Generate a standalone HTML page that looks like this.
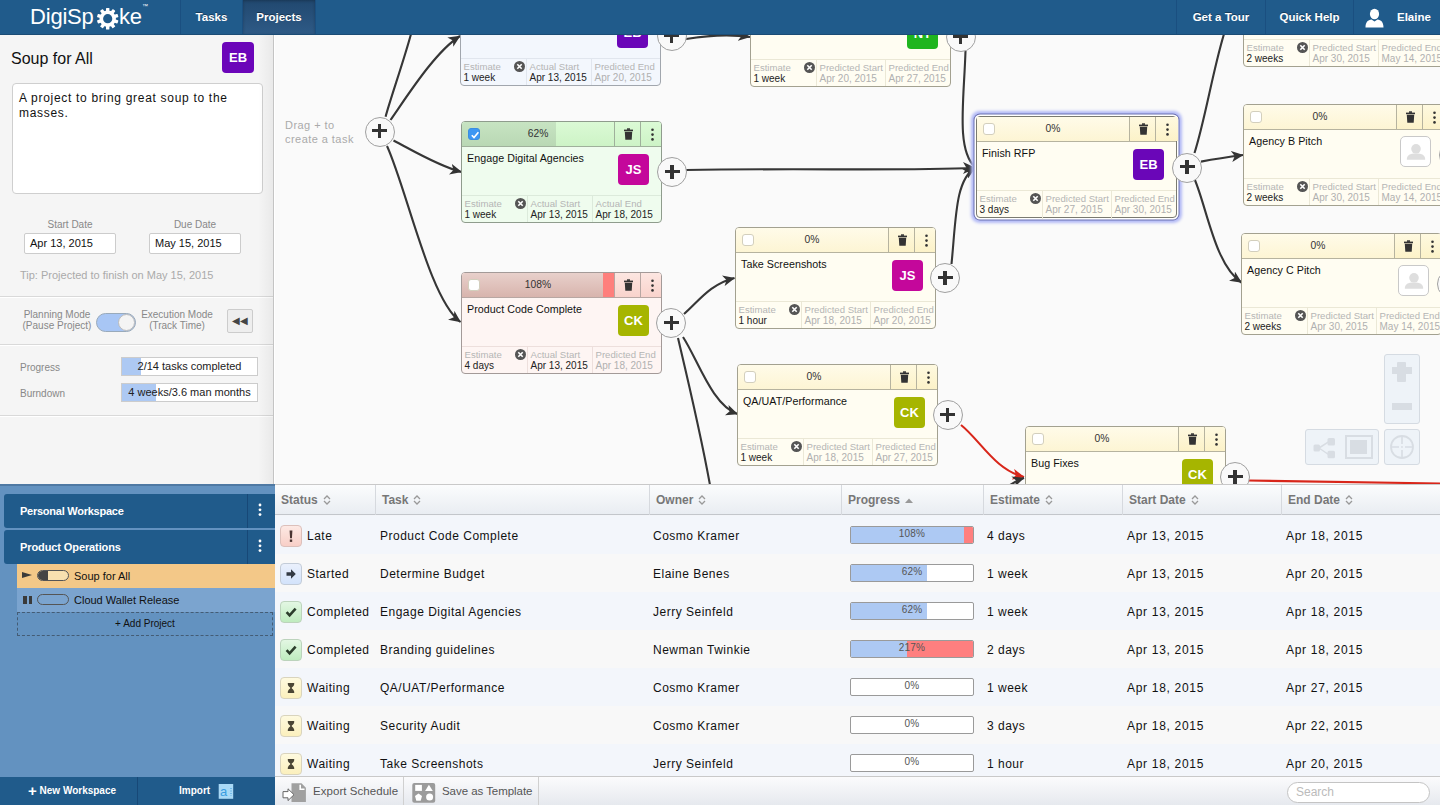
<!DOCTYPE html><html><head><meta charset="utf-8"><style>
*{margin:0;padding:0;box-sizing:border-box}
html,body{width:1440px;height:805px;overflow:hidden;font-family:"Liberation Sans",sans-serif;background:#f7f7f7;position:relative}
.abs{position:absolute}
#hdr{left:0;top:0;width:1440px;height:35px;background:#205b8b;border-bottom:1px solid #1b4c75;z-index:10}
.tab{position:absolute;top:0;height:34px;color:#fff;font-weight:bold;font-size:11.5px;line-height:35px;text-shadow:0 -1px 0 rgba(0,0,0,0.35);text-align:center;border-left:1px solid #1a4f80}
#left{left:0;top:35px;width:275px;height:449px;background:#f5f5f5;border-right:1px solid #fff}
#canvas{left:275px;top:35px;width:1165px;height:449px;background:#fafafa;overflow:hidden}
.card{position:absolute;width:201px;height:102px;border:1px solid #9c9c94;border-radius:4px;overflow:hidden;background:#fffdf0}
.card .hd{position:absolute;left:0;top:0;right:0;height:25px;border-bottom:1px solid #aaa79a;background:#fdf5cf}
.card .fill{position:absolute;left:0;top:0;height:24px}
.card .cb{position:absolute;left:5.5px;top:6px;width:12px;height:12px;border:1px solid #d3cfbd;border-radius:3px;background:#fff}
.card .pct{position:absolute;left:0;width:152px;top:0;height:24px;line-height:24px;text-align:center;font-size:10.3px;color:#333}
.card .tr{position:absolute;left:152px;top:0;width:26px;height:24px;border-left:1px solid #b4b19f}
.card .mn{position:absolute;left:178px;top:0;width:23px;height:24px;border-left:1px solid #b4b19f}
.card .title{position:absolute;left:5px;top:30px;font-size:10.7px;letter-spacing:0.05px;color:#111;white-space:nowrap}
.card .badge{position:absolute;left:156px;top:32px;width:31px;height:31px;border-radius:4px;color:#fff;font-weight:bold;font-size:13px;line-height:31px;text-align:center}
.card .ft{position:absolute;left:0;right:0;top:73px;height:29px;border-top:1px solid #e6e3d2}
.card .col{position:absolute;top:0;height:28px;font-size:10px;line-height:10.5px;padding-top:3px;padding-left:2.5px;white-space:nowrap}
.card .lab{color:#b5b5b5;font-size:9.6px}
.card .val{color:#b0b0b0}
.card .val.dk{color:#222}
.card .xc{position:absolute;left:52px;top:4px;width:11px;height:11px;border-radius:50%;background:#555;color:#fff;font-size:9px;line-height:11px;text-align:center;font-weight:bold}
.plus{position:absolute;width:30px;height:30px;border-radius:50%;border:1px solid #a0a0a0;background:#f9f9f9}
.plus:before{content:"";position:absolute;left:6.5px;top:11.6px;width:15px;height:3.3px;background:#333}
.plus:after{content:"";position:absolute;left:12.4px;top:6.5px;width:3.4px;height:14px;background:#333}
.th{position:absolute;top:0;height:30px;line-height:31px;font-size:12px;font-weight:bold;color:#777;padding-left:6px;border-left:1px solid #d6d9de}
.row{position:absolute;left:0;width:1165px;height:38px}
.cell{position:absolute;top:1px;height:38px;line-height:38px;font-size:12px;letter-spacing:0.5px;color:#111;white-space:nowrap}
.sic{position:absolute;left:5px;top:9px;width:22px;height:22px;border-radius:4px;border:1px solid #ddd}
.pbar{position:absolute;left:9px;top:10px;width:124px;height:18px;border:1px solid #9a9a9a;background:#fff;border-radius:2px;overflow:hidden}
.pbar .f{position:absolute;left:0;top:0;bottom:0;background:#adc9f3}
.pbar .r{position:absolute;top:0;bottom:0;background:#ff7f7f}
.pbar .t{position:absolute;left:0;right:0;top:0;text-align:center;font-size:10px;letter-spacing:0.2px;line-height:13px;color:#555}
</style></head><body>
<div id="hdr" class="abs">
<div class="abs" style="left:30px;top:4px;color:#fff;font-size:22px;letter-spacing:-0.2px;line-height:26px">DigiSp</div>
<div class="abs" style="left:119px;top:4px;color:#fff;font-size:22px;letter-spacing:-0.2px;line-height:26px">ke</div>
<div class="abs" style="left:142px;top:3px;color:#fff;font-size:6px">&#8482;</div>
<svg class="abs" style="left:96px;top:7px" width="23" height="23" viewBox="-11.5 -11.5 23 23"><g transform="translate(0.2,0.2)"><rect x="-1.7" y="-10.8" width="3.4" height="5" rx="0.6" transform="rotate(0)" fill="#fff"/><rect x="-1.7" y="-10.8" width="3.4" height="5" rx="0.6" transform="rotate(36)" fill="#fff"/><rect x="-1.7" y="-10.8" width="3.4" height="5" rx="0.6" transform="rotate(72)" fill="#fff"/><rect x="-1.7" y="-10.8" width="3.4" height="5" rx="0.6" transform="rotate(108)" fill="#fff"/><rect x="-1.7" y="-10.8" width="3.4" height="5" rx="0.6" transform="rotate(144)" fill="#fff"/><rect x="-1.7" y="-10.8" width="3.4" height="5" rx="0.6" transform="rotate(180)" fill="#fff"/><rect x="-1.7" y="-10.8" width="3.4" height="5" rx="0.6" transform="rotate(216)" fill="#fff"/><rect x="-1.7" y="-10.8" width="3.4" height="5" rx="0.6" transform="rotate(252)" fill="#fff"/><rect x="-1.7" y="-10.8" width="3.4" height="5" rx="0.6" transform="rotate(288)" fill="#fff"/><rect x="-1.7" y="-10.8" width="3.4" height="5" rx="0.6" transform="rotate(324)" fill="#fff"/><circle r="8.2" fill="#fff"/><circle r="4.6" fill="#205b8b"/></g></svg>
<div class="tab" style="left:180px;width:62px">Tasks</div>
<div class="tab" style="left:242px;width:74px;background:linear-gradient(#21486f,#2e5a86);box-shadow:inset 0 1px 3px rgba(0,0,0,0.25);border-right:1px solid #1a4f80">Projects</div>
<div class="tab" style="left:1176px;width:89px">Get a Tour</div>
<div class="tab" style="left:1265px;width:88px">Quick Help</div>
<div class="tab" style="left:1353px;width:87px"></div>
<svg class="abs" style="left:1364px;top:8px" width="21" height="20" viewBox="0 0 21 20"><ellipse cx="10.5" cy="6" rx="4.6" ry="5.2" fill="#fff"/><path d="M1.5,19.5 C1.5,14 4,12.2 7.5,11.6 L10.5,13.5 L13.5,11.6 C17,12.2 19.5,14 19.5,19.5 Z" fill="#fff"/></svg>
<div class="abs" style="left:1397px;top:0;color:#fff;font-weight:bold;font-size:11.5px;line-height:35px">Elaine</div>
</div>
<div id="left" class="abs">
<div class="abs" style="left:11px;top:15px;font-size:16px;color:#111">Soup for All</div>
<div class="abs" style="left:222px;top:7px;width:32px;height:31px;background:#6b05b9;border-radius:4px;color:#fff;font-weight:bold;font-size:13px;line-height:31px;text-align:center">EB</div>
<div class="abs" style="left:12px;top:48px;width:251px;height:111px;background:#fff;border:1px solid #cfcfcf;border-radius:4px;padding:6.5px 6px;font-size:12px;letter-spacing:0.7px;line-height:15px;color:#111">A project to bring great soup to the masses.</div>
<div class="abs" style="left:24px;top:184px;width:92px;text-align:center;font-size:10px;color:#888">Start Date</div>
<div class="abs" style="left:149px;top:184px;width:92px;text-align:center;font-size:10px;color:#888">Due Date</div>
<div class="abs" style="left:24px;top:198px;width:92px;height:21px;background:#fff;border:1px solid #ccc;border-radius:2px;font-size:11px;line-height:19px;padding-left:5px;color:#111">Apr 13, 2015</div>
<div class="abs" style="left:149px;top:198px;width:92px;height:21px;background:#fff;border:1px solid #ccc;border-radius:2px;font-size:11px;line-height:19px;padding-left:5px;color:#111">May 15, 2015</div>
<div class="abs" style="left:20px;top:234px;font-size:11px;color:#aaa">Tip: Projected to finish on May 15, 2015</div>
<div class="abs" style="left:0;top:261px;width:274px;height:1px;background:#d9d9d9;border-bottom:1px solid #fff;box-sizing:content-box"></div>
<div class="abs" style="left:18px;top:274px;width:78px;text-align:center;font-size:10px;line-height:11px;color:#888">Planning Mode<br>(Pause Project)</div>
<div class="abs" style="left:96px;top:278px;width:40px;height:19px;border-radius:10px;background:#a8c6f5;border:1px solid #9ab"></div>
<div class="abs" style="left:118px;top:279px;width:17px;height:17px;border-radius:50%;background:#f4f4f4;border:1px solid #bbb"></div>
<div class="abs" style="left:138px;top:274px;width:78px;text-align:center;font-size:10px;line-height:11px;color:#888">Execution Mode<br>(Track Time)</div>
<div class="abs" style="left:227px;top:274px;width:26px;height:24px;border:1px solid #ccc;border-radius:2px;background:#eee;font-size:10px;line-height:22px;text-align:center;color:#444">&#9664;&#9664;</div>
<div class="abs" style="left:0;top:309px;width:274px;height:1px;background:#d9d9d9;border-bottom:1px solid #fff;box-sizing:content-box"></div>
<div class="abs" style="left:20px;top:327px;font-size:10px;color:#888">Progress</div>
<div class="abs" style="left:121px;top:322px;width:137px;height:19px;background:#fff;border:1px solid #ccc;overflow:hidden"><div class="abs" style="left:0;top:0;width:19px;height:19px;background:#adc9f3"></div><div class="abs" style="left:0;right:0;top:0;text-align:center;font-size:11px;line-height:17px;color:#222">2/14 tasks completed</div></div>
<div class="abs" style="left:20px;top:353px;font-size:10px;color:#888">Burndown</div>
<div class="abs" style="left:121px;top:348px;width:137px;height:19px;background:#fff;border:1px solid #ccc;overflow:hidden"><div class="abs" style="left:0;top:0;width:34px;height:19px;background:#adc9f3"></div><div class="abs" style="left:0;right:0;top:0;text-align:center;font-size:11px;line-height:17px;color:#222">4 weeks/3.6 man months</div></div>
<div class="abs" style="left:0;top:380px;width:274px;height:1px;background:#d9d9d9;border-bottom:1px solid #fff;box-sizing:content-box"></div>
<div class="abs" style="left:258px;top:0;width:16px;height:449px;background:linear-gradient(to right,rgba(0,0,0,0),rgba(0,0,0,0.05))"></div>
<div class="abs" style="left:273px;top:0;width:1px;height:449px;background:#c4c4c4"></div>
</div>
<div class="abs" style="left:0;top:484px;width:275px;height:293px;background:#6392c0;border-top:2px solid #4f79a3"></div>
<div class="abs" style="left:4px;top:494px;width:271px;height:34px;background:#205b8b;border-radius:3px 0 0 3px"><div class="abs" style="left:16px;top:0;line-height:34px;color:#fff;font-weight:bold;font-size:11px;letter-spacing:-0.25px">Personal Workspace</div><div class="abs" style="left:243px;top:0;width:1px;height:34px;background:#174877"></div><svg class="abs" style="left:254px;top:9px" width="4" height="14" viewBox="0 0 4 14"><circle cx="2" cy="2" r="1.4" fill="#fff"/><circle cx="2" cy="6.8" r="1.4" fill="#fff"/><circle cx="2" cy="11.6" r="1.4" fill="#fff"/></svg></div>
<div class="abs" style="left:4px;top:530px;width:271px;height:34px;background:#205b8b;border-radius:3px 0 0 3px"><div class="abs" style="left:16px;top:0;line-height:34px;color:#fff;font-weight:bold;font-size:11px;letter-spacing:-0.1px">Product Operations</div><div class="abs" style="left:243px;top:0;width:1px;height:34px;background:#174877"></div><svg class="abs" style="left:254px;top:9px" width="4" height="14" viewBox="0 0 4 14"><circle cx="2" cy="2" r="1.4" fill="#fff"/><circle cx="2" cy="6.8" r="1.4" fill="#fff"/><circle cx="2" cy="11.6" r="1.4" fill="#fff"/></svg></div>
<div class="abs" style="left:17px;top:564px;width:258px;height:24px;background:#f3c888"><div class="abs" style="left:5px;top:7.5px;width:0;height:0;border-left:10px solid #3a3a3a;border-top:3.6px solid transparent;border-bottom:3.6px solid transparent"></div><div class="abs" style="left:20px;top:6px;width:32px;height:11px;border:1px solid #555;border-radius:6px;background:#f8e0b0;overflow:hidden"><div class="abs" style="left:0;top:0;width:10px;height:11px;background:#444"></div></div><div class="abs" style="left:57px;top:0;line-height:24px;font-size:11px;color:#111">Soup for All</div></div>
<div class="abs" style="left:17px;top:588px;width:258px;height:24px;background:#7ba4cf"><div class="abs" style="left:6px;top:7.5px;width:3.5px;height:8px;background:#3a3a3a"></div><div class="abs" style="left:11.5px;top:7.5px;width:3.5px;height:8px;background:#3a3a3a"></div><div class="abs" style="left:20px;top:6px;width:32px;height:11px;border:1px solid #555;border-radius:6px"></div><div class="abs" style="left:57px;top:0;line-height:24px;font-size:11px;color:#111">Cloud Wallet Release</div></div>
<div class="abs" style="left:17px;top:612px;width:256px;height:24px;border:1px dashed #445c75"><div class="abs" style="left:0;right:0;top:0;line-height:22px;text-align:center;font-size:10px;color:#111">+ Add Project</div></div>
<div class="abs" style="left:0;top:777px;width:275px;height:28px;background:#205b8b"><div class="abs" style="left:28px;top:0;line-height:28px;color:#fff;font-weight:bold;font-size:10px"><span style="font-size:15px;vertical-align:-2px">+</span> New Workspace</div><div class="abs" style="left:137px;top:0;width:1px;height:28px;background:#174877"></div><div class="abs" style="left:179px;top:0;line-height:28px;color:#fff;font-weight:bold;font-size:10px">Import</div><svg class="abs" style="left:218px;top:6px" width="16" height="16" viewBox="0 0 16 16"><rect x="0.7" y="1" width="14.5" height="14.8" fill="#a9d9f6"/><text x="2" y="12.5" font-family="Liberation Sans" font-size="13" fill="#3a9de0">a</text><path d="M13,5 V13" stroke="#3a9de0" stroke-width="1" stroke-dasharray="1,1.5"/></svg></div>
<div id="canvas" class="abs">
<div class="abs" style="left:10px;top:84px;font-size:11px;letter-spacing:0.45px;line-height:13.5px;color:#aaa">Drag + to<br>create a task</div>
<svg class="abs" style="left:0;top:0" width="1165" height="449" viewBox="275 35 1165 449"><defs><marker id="ah2" viewBox="0 0 12 11" refX="11.5" refY="5.5" markerWidth="12" markerHeight="11" orient="auto" markerUnits="userSpaceOnUse"><path d="M0,0 L12,5.5 L0,11 L3.2,5.5 Z" fill="#333"/></marker><marker id="ah3" viewBox="0 0 12 11" refX="11.5" refY="5.5" markerWidth="12" markerHeight="11" orient="auto" markerUnits="userSpaceOnUse"><path d="M0,0 L12,5.5 L0,11 L3.2,5.5 Z" fill="#d8261a"/></marker></defs><path d="M385.6,116.7 C 390,100 404,60 411,34" fill="none" stroke="#363636" stroke-width="2.1"/><path d="M390.5,120 C 408,95 435,52 460,36" fill="none" stroke="#363636" stroke-width="2.1" marker-end="url(#ah2)"/><path d="M393.5,140.5 C 412,150 438,166 461.5,172" fill="none" stroke="#363636" stroke-width="2.1" marker-end="url(#ah2)"/><path d="M387,146 C 407,190 430,300 460.5,322" fill="none" stroke="#363636" stroke-width="2.1" marker-end="url(#ah2)"/><path d="M686,39 C 710,35 730,34 750,37" fill="none" stroke="#363636" stroke-width="2.1" marker-end="url(#ah2)"/><path d="M686,170 C 800,168 900,171 975,168" fill="none" stroke="#363636" stroke-width="2.1"/><path d="M965.5,51 C 964,100 956,150 975,167" fill="none" stroke="#363636" stroke-width="2.1"/><path d="M951.5,264 C 956,220 955,180 975,168" fill="none" stroke="#363636" stroke-width="2.1" marker-end="url(#ah2)"/><path d="M684,314 C 698,302 710,284 734.5,278" fill="none" stroke="#363636" stroke-width="2.1" marker-end="url(#ah2)"/><path d="M683,337 C 698,360 712,405 737.5,414" fill="none" stroke="#363636" stroke-width="2.1" marker-end="url(#ah2)"/><path d="M678,338 C 686,372 700,430 710,485" fill="none" stroke="#363636" stroke-width="2.1"/><path d="M961,425 C 980,440 995,470 1024,477" fill="none" stroke="#d8261a" stroke-width="2.1" marker-end="url(#ah3)"/><path d="M1248.6,480.5 C 1320,481.5 1380,482.5 1440,483.5" fill="none" stroke="#d8261a" stroke-width="2.1"/><path d="M1201,161.6 C 1215,159 1228,157 1243,155" fill="none" stroke="#363636" stroke-width="2.1" marker-end="url(#ah2)"/><path d="M1194.5,153 C 1205,120 1213,70 1224,34" fill="none" stroke="#363636" stroke-width="2.1"/><path d="M1194.5,179 C 1207,208 1215,265 1241.5,282.5" fill="none" stroke="#363636" stroke-width="2.1" marker-end="url(#ah2)"/><path d="M1000,492 C 1008,486 1015,481 1024,478" fill="none" stroke="#363636" stroke-width="2.1" marker-end="url(#ah2)"/><path d="M963,162 L976,168 L963,174 L966.5,168 Z" fill="#333"/></svg>
<div class="card" style="left:185px;top:-51px;background:#f3f7fd;border-color:#a1a6ad;">
<div class="hd" style="background:linear-gradient(#e8f0fb,#d9e5f5);border-bottom-color:#b3b9c0">
<div class="cb"></div>
<div class="pct">62%</div>
<div class="tr" style="background:linear-gradient(#e8f0fb,#d9e5f5);border-left-color:#b3b9c0"><svg class="abs" style="left:8.5px;top:5.5px" width="9" height="12" viewBox="0 0 9 12"><rect x="0" y="1.6" width="9" height="1.6" fill="#333"/><rect x="3" y="0.3" width="3" height="1.6" fill="#333"/><path d="M0.8,3.8 H8.2 L7.7,11.8 H1.3 Z" fill="#333"/></svg></div><div class="mn" style="background:linear-gradient(#e8f0fb,#d9e5f5);border-left-color:#b3b9c0"><svg class="abs" style="left:10px;top:5.5px" width="3" height="13" viewBox="0 0 3 13"><circle cx="1.5" cy="1.8" r="1.3" fill="#333"/><circle cx="1.5" cy="6.6" r="1.3" fill="#333"/><circle cx="1.5" cy="11.4" r="1.3" fill="#333"/></svg></div>
</div>
<div class="title">Determine Budget</div>
<div class="badge" style="background:#6a06b8">EB</div>
<div class="ft" style="border-top-color:#e1e6ee">
<div class="col" style="left:0px;width:65px;"><div class="lab">Estimate</div><div class="val dk">1 week</div><svg class="xc2 abs" style="left:52.5px;top:1.8px" width="11" height="11" viewBox="0 0 11 11"><circle cx="5.5" cy="5.5" r="5.5" fill="#555"/><path d="M3.3,3.3 L7.7,7.7 M7.7,3.3 L3.3,7.7" stroke="#fff" stroke-width="1.6"/></svg></div>
<div class="col" style="left:65px;width:65px;border-left:1px solid #e1e6ee;"><div class="lab">Actual Start</div><div class="val dk">Apr 13, 2015</div></div>
<div class="col" style="left:130px;width:71px;border-left:1px solid #e1e6ee;"><div class="lab">Predicted End</div><div class="val">Apr 20, 2015</div></div>
</div></div>
<div class="card" style="left:475px;top:-50px;background:#fffdf2;border-color:#a3a190;">
<div class="hd" style="background:linear-gradient(#fffbe9,#fdf5d4);border-bottom-color:#b6b39f">
<div class="cb"></div>
<div class="pct">0%</div>
<div class="tr" style="background:linear-gradient(#fef9e0,#fcf2c8);border-left-color:#b6b39f"><svg class="abs" style="left:8.5px;top:5.5px" width="9" height="12" viewBox="0 0 9 12"><rect x="0" y="1.6" width="9" height="1.6" fill="#333"/><rect x="3" y="0.3" width="3" height="1.6" fill="#333"/><path d="M0.8,3.8 H8.2 L7.7,11.8 H1.3 Z" fill="#333"/></svg></div><div class="mn" style="background:linear-gradient(#fef9e0,#fcf2c8);border-left-color:#b6b39f"><svg class="abs" style="left:10px;top:5.5px" width="3" height="13" viewBox="0 0 3 13"><circle cx="1.5" cy="1.8" r="1.3" fill="#333"/><circle cx="1.5" cy="6.6" r="1.3" fill="#333"/><circle cx="1.5" cy="11.4" r="1.3" fill="#333"/></svg></div>
</div>
<div class="title">Branding</div>
<div class="badge" style="background:#1fb51f">NT</div>
<div class="ft" style="border-top-color:#ebe8d6">
<div class="col" style="left:0px;width:65px;"><div class="lab">Estimate</div><div class="val dk">1 week</div><svg class="xc2 abs" style="left:52.5px;top:1.8px" width="11" height="11" viewBox="0 0 11 11"><circle cx="5.5" cy="5.5" r="5.5" fill="#555"/><path d="M3.3,3.3 L7.7,7.7 M7.7,3.3 L3.3,7.7" stroke="#fff" stroke-width="1.6"/></svg></div>
<div class="col" style="left:65px;width:69px;border-left:1px solid #ebe8d6;"><div class="lab">Predicted Start</div><div class="val">Apr 20, 2015</div></div>
<div class="col" style="left:134px;width:67px;border-left:1px solid #ebe8d6;"><div class="lab">Predicted End</div><div class="val">Apr 27, 2015</div></div>
</div></div>
<div class="card" style="left:968px;top:-70px;background:#fffdf2;border-color:#a3a190;">
<div class="hd" style="background:linear-gradient(#fffbe9,#fdf5d4);border-bottom-color:#b6b39f">
<div class="cb"></div>
<div class="pct">0%</div>
<div class="tr" style="background:linear-gradient(#fef9e0,#fcf2c8);border-left-color:#b6b39f"><svg class="abs" style="left:8.5px;top:5.5px" width="9" height="12" viewBox="0 0 9 12"><rect x="0" y="1.6" width="9" height="1.6" fill="#333"/><rect x="3" y="0.3" width="3" height="1.6" fill="#333"/><path d="M0.8,3.8 H8.2 L7.7,11.8 H1.3 Z" fill="#333"/></svg></div><div class="mn" style="background:linear-gradient(#fef9e0,#fcf2c8);border-left-color:#b6b39f"><svg class="abs" style="left:10px;top:5.5px" width="3" height="13" viewBox="0 0 3 13"><circle cx="1.5" cy="1.8" r="1.3" fill="#333"/><circle cx="1.5" cy="6.6" r="1.3" fill="#333"/><circle cx="1.5" cy="11.4" r="1.3" fill="#333"/></svg></div>
</div>
<div class="title">Agency A Pitch</div>
<div class="abs" style="left:156px;top:31px;width:31px;height:31px;border-radius:5px;border:1px solid #c9c9c9;background:#fff"><svg class="abs" style="left:4.5px;top:4.5px" width="20" height="20" viewBox="0 0 20 20"><circle cx="10" cy="6.8" r="4.8" fill="#dedede"/><path d="M0.8,17.8 C0.8,13 4,11.6 10,11.6 C16,11.6 19.2,13 19.2,17.8 Z" fill="#dedede"/></svg></div>
<div class="ft" style="border-top-color:#ebe8d6">
<div class="col" style="left:0px;width:65px;"><div class="lab">Estimate</div><div class="val dk">2 weeks</div><svg class="xc2 abs" style="left:52.5px;top:1.8px" width="11" height="11" viewBox="0 0 11 11"><circle cx="5.5" cy="5.5" r="5.5" fill="#555"/><path d="M3.3,3.3 L7.7,7.7 M7.7,3.3 L3.3,7.7" stroke="#fff" stroke-width="1.6"/></svg></div>
<div class="col" style="left:65px;width:69px;border-left:1px solid #ebe8d6;"><div class="lab">Predicted Start</div><div class="val">Apr 30, 2015</div></div>
<div class="col" style="left:134px;width:67px;border-left:1px solid #ebe8d6;"><div class="lab">Predicted End</div><div class="val">May 14, 2015</div></div>
</div></div>
<div class="card" style="left:186px;top:86px;background:#effcee;border-color:#8f9c8d;">
<div class="hd" style="background:linear-gradient(#dbfad5,#cdf3c6);border-bottom-color:#9fb09b">
<div class="fill" style="width:94px;background:linear-gradient(#c7e4c2,#b9d8b4)"></div>
<div class="cb" style="background:#3d97f3;border-color:#3b8de0"><svg class="abs" style="left:1px;top:1px" width="10" height="10" viewBox="0 0 10 10"><path d="M1.8,5.2 L4,7.6 L8.4,2.2" stroke="#fff" stroke-width="1.6" fill="none"/></svg></div>
<div class="pct">62%</div>
<div class="tr" style="background:linear-gradient(#dbfad5,#cdf3c6);border-left-color:#9fb09b"><svg class="abs" style="left:8.5px;top:5.5px" width="9" height="12" viewBox="0 0 9 12"><rect x="0" y="1.6" width="9" height="1.6" fill="#333"/><rect x="3" y="0.3" width="3" height="1.6" fill="#333"/><path d="M0.8,3.8 H8.2 L7.7,11.8 H1.3 Z" fill="#333"/></svg></div><div class="mn" style="background:linear-gradient(#dbfad5,#cdf3c6);border-left-color:#9fb09b"><svg class="abs" style="left:10px;top:5.5px" width="3" height="13" viewBox="0 0 3 13"><circle cx="1.5" cy="1.8" r="1.3" fill="#333"/><circle cx="1.5" cy="6.6" r="1.3" fill="#333"/><circle cx="1.5" cy="11.4" r="1.3" fill="#333"/></svg></div>
</div>
<div class="title">Engage Digital Agencies</div>
<div class="badge" style="background:#c4079b">JS</div>
<div class="ft" style="border-top-color:#dceadb">
<div class="col" style="left:0px;width:65px;"><div class="lab">Estimate</div><div class="val dk">1 week</div><svg class="xc2 abs" style="left:52.5px;top:1.8px" width="11" height="11" viewBox="0 0 11 11"><circle cx="5.5" cy="5.5" r="5.5" fill="#555"/><path d="M3.3,3.3 L7.7,7.7 M7.7,3.3 L3.3,7.7" stroke="#fff" stroke-width="1.6"/></svg></div>
<div class="col" style="left:65px;width:65px;border-left:1px solid #dceadb;"><div class="lab">Actual Start</div><div class="val dk">Apr 13, 2015</div></div>
<div class="col" style="left:130px;width:71px;border-left:1px solid #dceadb;"><div class="lab">Actual End</div><div class="val dk">Apr 18, 2015</div></div>
</div></div>
<div class="card" style="left:186px;top:237px;background:#fef5f3;border-color:#a39a98;">
<div class="hd" style="background:linear-gradient(#fde4df,#f8d2cb);border-bottom-color:#b8a7a3">
<div class="fill" style="width:141px;background:linear-gradient(#e8d0cb,#d8b4ad)"></div>
<div class="fill" style="left:141px;width:11px;background:#fe7f7c"></div>
<div class="cb"></div>
<div class="pct">108%</div>
<div class="tr" style="background:linear-gradient(#fde6e1,#f9d3cc);border-left-color:#b8a7a3"><svg class="abs" style="left:8.5px;top:5.5px" width="9" height="12" viewBox="0 0 9 12"><rect x="0" y="1.6" width="9" height="1.6" fill="#333"/><rect x="3" y="0.3" width="3" height="1.6" fill="#333"/><path d="M0.8,3.8 H8.2 L7.7,11.8 H1.3 Z" fill="#333"/></svg></div><div class="mn" style="background:linear-gradient(#fde6e1,#f9d3cc);border-left-color:#b8a7a3"><svg class="abs" style="left:10px;top:5.5px" width="3" height="13" viewBox="0 0 3 13"><circle cx="1.5" cy="1.8" r="1.3" fill="#333"/><circle cx="1.5" cy="6.6" r="1.3" fill="#333"/><circle cx="1.5" cy="11.4" r="1.3" fill="#333"/></svg></div>
</div>
<div class="title">Product Code Complete</div>
<div class="badge" style="background:#a6b500">CK</div>
<div class="ft" style="border-top-color:#eddfdc">
<div class="col" style="left:0px;width:65px;"><div class="lab">Estimate</div><div class="val dk">4 days</div><svg class="xc2 abs" style="left:52.5px;top:1.8px" width="11" height="11" viewBox="0 0 11 11"><circle cx="5.5" cy="5.5" r="5.5" fill="#555"/><path d="M3.3,3.3 L7.7,7.7 M7.7,3.3 L3.3,7.7" stroke="#fff" stroke-width="1.6"/></svg></div>
<div class="col" style="left:65px;width:65px;border-left:1px solid #eddfdc;"><div class="lab">Actual Start</div><div class="val dk">Apr 13, 2015</div></div>
<div class="col" style="left:130px;width:71px;border-left:1px solid #eddfdc;"><div class="lab">Predicted End</div><div class="val">Apr 18, 2015</div></div>
</div></div>
<div class="card" style="left:460px;top:192px;background:#fffdf2;border-color:#a3a190;">
<div class="hd" style="background:linear-gradient(#fffbe9,#fdf5d4);border-bottom-color:#b6b39f">
<div class="cb"></div>
<div class="pct">0%</div>
<div class="tr" style="background:linear-gradient(#fef9e0,#fcf2c8);border-left-color:#b6b39f"><svg class="abs" style="left:8.5px;top:5.5px" width="9" height="12" viewBox="0 0 9 12"><rect x="0" y="1.6" width="9" height="1.6" fill="#333"/><rect x="3" y="0.3" width="3" height="1.6" fill="#333"/><path d="M0.8,3.8 H8.2 L7.7,11.8 H1.3 Z" fill="#333"/></svg></div><div class="mn" style="background:linear-gradient(#fef9e0,#fcf2c8);border-left-color:#b6b39f"><svg class="abs" style="left:10px;top:5.5px" width="3" height="13" viewBox="0 0 3 13"><circle cx="1.5" cy="1.8" r="1.3" fill="#333"/><circle cx="1.5" cy="6.6" r="1.3" fill="#333"/><circle cx="1.5" cy="11.4" r="1.3" fill="#333"/></svg></div>
</div>
<div class="title">Take Screenshots</div>
<div class="badge" style="background:#c4079b">JS</div>
<div class="ft" style="border-top-color:#ebe8d6">
<div class="col" style="left:0px;width:65px;"><div class="lab">Estimate</div><div class="val dk">1 hour</div><svg class="xc2 abs" style="left:52.5px;top:1.8px" width="11" height="11" viewBox="0 0 11 11"><circle cx="5.5" cy="5.5" r="5.5" fill="#555"/><path d="M3.3,3.3 L7.7,7.7 M7.7,3.3 L3.3,7.7" stroke="#fff" stroke-width="1.6"/></svg></div>
<div class="col" style="left:65px;width:69px;border-left:1px solid #ebe8d6;"><div class="lab">Predicted Start</div><div class="val">Apr 18, 2015</div></div>
<div class="col" style="left:134px;width:67px;border-left:1px solid #ebe8d6;"><div class="lab">Predicted End</div><div class="val">Apr 20, 2015</div></div>
</div></div>
<div class="card" style="left:462px;top:329px;background:#fffdf2;border-color:#a3a190;">
<div class="hd" style="background:linear-gradient(#fffbe9,#fdf5d4);border-bottom-color:#b6b39f">
<div class="cb"></div>
<div class="pct">0%</div>
<div class="tr" style="background:linear-gradient(#fef9e0,#fcf2c8);border-left-color:#b6b39f"><svg class="abs" style="left:8.5px;top:5.5px" width="9" height="12" viewBox="0 0 9 12"><rect x="0" y="1.6" width="9" height="1.6" fill="#333"/><rect x="3" y="0.3" width="3" height="1.6" fill="#333"/><path d="M0.8,3.8 H8.2 L7.7,11.8 H1.3 Z" fill="#333"/></svg></div><div class="mn" style="background:linear-gradient(#fef9e0,#fcf2c8);border-left-color:#b6b39f"><svg class="abs" style="left:10px;top:5.5px" width="3" height="13" viewBox="0 0 3 13"><circle cx="1.5" cy="1.8" r="1.3" fill="#333"/><circle cx="1.5" cy="6.6" r="1.3" fill="#333"/><circle cx="1.5" cy="11.4" r="1.3" fill="#333"/></svg></div>
</div>
<div class="title">QA/UAT/Performance</div>
<div class="badge" style="background:#a6b500">CK</div>
<div class="ft" style="border-top-color:#ebe8d6">
<div class="col" style="left:0px;width:65px;"><div class="lab">Estimate</div><div class="val dk">1 week</div><svg class="xc2 abs" style="left:52.5px;top:1.8px" width="11" height="11" viewBox="0 0 11 11"><circle cx="5.5" cy="5.5" r="5.5" fill="#555"/><path d="M3.3,3.3 L7.7,7.7 M7.7,3.3 L3.3,7.7" stroke="#fff" stroke-width="1.6"/></svg></div>
<div class="col" style="left:65px;width:69px;border-left:1px solid #ebe8d6;"><div class="lab">Predicted Start</div><div class="val">Apr 18, 2015</div></div>
<div class="col" style="left:134px;width:67px;border-left:1px solid #ebe8d6;"><div class="lab">Predicted End</div><div class="val">Apr 27, 2015</div></div>
</div></div>
<div class="card" style="left:701px;top:81px;background:#fffdf2;border-color:#a3a190;overflow:visible;box-shadow:0 0 0 1.5px #fff,0 0 0 2.5px #6b70b0,0 0 3px 4.5px #b3baf6;border-color:#7a7a70;">
<div class="hd" style="background:linear-gradient(#fffbe9,#fdf5d4);border-bottom-color:#b6b39f">
<div class="cb"></div>
<div class="pct">0%</div>
<div class="tr" style="background:linear-gradient(#fef9e0,#fcf2c8);border-left-color:#b6b39f"><svg class="abs" style="left:8.5px;top:5.5px" width="9" height="12" viewBox="0 0 9 12"><rect x="0" y="1.6" width="9" height="1.6" fill="#333"/><rect x="3" y="0.3" width="3" height="1.6" fill="#333"/><path d="M0.8,3.8 H8.2 L7.7,11.8 H1.3 Z" fill="#333"/></svg></div><div class="mn" style="background:linear-gradient(#fef9e0,#fcf2c8);border-left-color:#b6b39f"><svg class="abs" style="left:10px;top:5.5px" width="3" height="13" viewBox="0 0 3 13"><circle cx="1.5" cy="1.8" r="1.3" fill="#333"/><circle cx="1.5" cy="6.6" r="1.3" fill="#333"/><circle cx="1.5" cy="11.4" r="1.3" fill="#333"/></svg></div>
</div>
<div class="title">Finish RFP</div>
<div class="badge" style="background:#6a06b8">EB</div>
<div class="ft" style="border-top-color:#ebe8d6">
<div class="col" style="left:0px;width:65px;"><div class="lab">Estimate</div><div class="val dk">3 days</div><svg class="xc2 abs" style="left:52.5px;top:1.8px" width="11" height="11" viewBox="0 0 11 11"><circle cx="5.5" cy="5.5" r="5.5" fill="#555"/><path d="M3.3,3.3 L7.7,7.7 M7.7,3.3 L3.3,7.7" stroke="#fff" stroke-width="1.6"/></svg></div>
<div class="col" style="left:65px;width:69px;border-left:1px solid #ebe8d6;"><div class="lab">Predicted Start</div><div class="val">Apr 27, 2015</div></div>
<div class="col" style="left:134px;width:67px;border-left:1px solid #ebe8d6;"><div class="lab">Predicted End</div><div class="val">Apr 30, 2015</div></div>
</div></div>
<div class="card" style="left:968px;top:69px;background:#fffdf2;border-color:#a3a190;">
<div class="hd" style="background:linear-gradient(#fffbe9,#fdf5d4);border-bottom-color:#b6b39f">
<div class="cb"></div>
<div class="pct">0%</div>
<div class="tr" style="background:linear-gradient(#fef9e0,#fcf2c8);border-left-color:#b6b39f"><svg class="abs" style="left:8.5px;top:5.5px" width="9" height="12" viewBox="0 0 9 12"><rect x="0" y="1.6" width="9" height="1.6" fill="#333"/><rect x="3" y="0.3" width="3" height="1.6" fill="#333"/><path d="M0.8,3.8 H8.2 L7.7,11.8 H1.3 Z" fill="#333"/></svg></div><div class="mn" style="background:linear-gradient(#fef9e0,#fcf2c8);border-left-color:#b6b39f"><svg class="abs" style="left:10px;top:5.5px" width="3" height="13" viewBox="0 0 3 13"><circle cx="1.5" cy="1.8" r="1.3" fill="#333"/><circle cx="1.5" cy="6.6" r="1.3" fill="#333"/><circle cx="1.5" cy="11.4" r="1.3" fill="#333"/></svg></div>
</div>
<div class="title">Agency B Pitch</div>
<div class="abs" style="left:156px;top:31px;width:31px;height:31px;border-radius:5px;border:1px solid #c9c9c9;background:#fff"><svg class="abs" style="left:4.5px;top:4.5px" width="20" height="20" viewBox="0 0 20 20"><circle cx="10" cy="6.8" r="4.8" fill="#dedede"/><path d="M0.8,17.8 C0.8,13 4,11.6 10,11.6 C16,11.6 19.2,13 19.2,17.8 Z" fill="#dedede"/></svg></div>
<div class="ft" style="border-top-color:#ebe8d6">
<div class="col" style="left:0px;width:65px;"><div class="lab">Estimate</div><div class="val dk">2 weeks</div><svg class="xc2 abs" style="left:52.5px;top:1.8px" width="11" height="11" viewBox="0 0 11 11"><circle cx="5.5" cy="5.5" r="5.5" fill="#555"/><path d="M3.3,3.3 L7.7,7.7 M7.7,3.3 L3.3,7.7" stroke="#fff" stroke-width="1.6"/></svg></div>
<div class="col" style="left:65px;width:69px;border-left:1px solid #ebe8d6;"><div class="lab">Predicted Start</div><div class="val">Apr 30, 2015</div></div>
<div class="col" style="left:134px;width:67px;border-left:1px solid #ebe8d6;"><div class="lab">Predicted End</div><div class="val">May 14, 2015</div></div>
</div></div>
<div class="card" style="left:966px;top:198px;background:#fffdf2;border-color:#a3a190;">
<div class="hd" style="background:linear-gradient(#fffbe9,#fdf5d4);border-bottom-color:#b6b39f">
<div class="cb"></div>
<div class="pct">0%</div>
<div class="tr" style="background:linear-gradient(#fef9e0,#fcf2c8);border-left-color:#b6b39f"><svg class="abs" style="left:8.5px;top:5.5px" width="9" height="12" viewBox="0 0 9 12"><rect x="0" y="1.6" width="9" height="1.6" fill="#333"/><rect x="3" y="0.3" width="3" height="1.6" fill="#333"/><path d="M0.8,3.8 H8.2 L7.7,11.8 H1.3 Z" fill="#333"/></svg></div><div class="mn" style="background:linear-gradient(#fef9e0,#fcf2c8);border-left-color:#b6b39f"><svg class="abs" style="left:10px;top:5.5px" width="3" height="13" viewBox="0 0 3 13"><circle cx="1.5" cy="1.8" r="1.3" fill="#333"/><circle cx="1.5" cy="6.6" r="1.3" fill="#333"/><circle cx="1.5" cy="11.4" r="1.3" fill="#333"/></svg></div>
</div>
<div class="title">Agency C Pitch</div>
<div class="abs" style="left:156px;top:31px;width:31px;height:31px;border-radius:5px;border:1px solid #c9c9c9;background:#fff"><svg class="abs" style="left:4.5px;top:4.5px" width="20" height="20" viewBox="0 0 20 20"><circle cx="10" cy="6.8" r="4.8" fill="#dedede"/><path d="M0.8,17.8 C0.8,13 4,11.6 10,11.6 C16,11.6 19.2,13 19.2,17.8 Z" fill="#dedede"/></svg></div>
<div class="ft" style="border-top-color:#ebe8d6">
<div class="col" style="left:0px;width:65px;"><div class="lab">Estimate</div><div class="val dk">2 weeks</div><svg class="xc2 abs" style="left:52.5px;top:1.8px" width="11" height="11" viewBox="0 0 11 11"><circle cx="5.5" cy="5.5" r="5.5" fill="#555"/><path d="M3.3,3.3 L7.7,7.7 M7.7,3.3 L3.3,7.7" stroke="#fff" stroke-width="1.6"/></svg></div>
<div class="col" style="left:65px;width:69px;border-left:1px solid #ebe8d6;"><div class="lab">Predicted Start</div><div class="val">Apr 30, 2015</div></div>
<div class="col" style="left:134px;width:67px;border-left:1px solid #ebe8d6;"><div class="lab">Predicted End</div><div class="val">May 14, 2015</div></div>
</div></div>
<div class="card" style="left:750px;top:391px;background:#fffdf2;border-color:#a3a190;">
<div class="hd" style="background:linear-gradient(#fffbe9,#fdf5d4);border-bottom-color:#b6b39f">
<div class="cb"></div>
<div class="pct">0%</div>
<div class="tr" style="background:linear-gradient(#fef9e0,#fcf2c8);border-left-color:#b6b39f"><svg class="abs" style="left:8.5px;top:5.5px" width="9" height="12" viewBox="0 0 9 12"><rect x="0" y="1.6" width="9" height="1.6" fill="#333"/><rect x="3" y="0.3" width="3" height="1.6" fill="#333"/><path d="M0.8,3.8 H8.2 L7.7,11.8 H1.3 Z" fill="#333"/></svg></div><div class="mn" style="background:linear-gradient(#fef9e0,#fcf2c8);border-left-color:#b6b39f"><svg class="abs" style="left:10px;top:5.5px" width="3" height="13" viewBox="0 0 3 13"><circle cx="1.5" cy="1.8" r="1.3" fill="#333"/><circle cx="1.5" cy="6.6" r="1.3" fill="#333"/><circle cx="1.5" cy="11.4" r="1.3" fill="#333"/></svg></div>
</div>
<div class="title">Bug Fixes</div>
<div class="badge" style="background:#a6b500">CK</div>
<div class="ft" style="border-top-color:#ebe8d6">
<div class="col" style="left:0px;width:65px;"><div class="lab">Estimate</div><div class="val dk">1 day</div><svg class="xc2 abs" style="left:52.5px;top:1.8px" width="11" height="11" viewBox="0 0 11 11"><circle cx="5.5" cy="5.5" r="5.5" fill="#555"/><path d="M3.3,3.3 L7.7,7.7 M7.7,3.3 L3.3,7.7" stroke="#fff" stroke-width="1.6"/></svg></div>
<div class="col" style="left:65px;width:69px;border-left:1px solid #ebe8d6;"><div class="lab">Predicted Start</div><div class="val">Apr 27, 2015</div></div>
<div class="col" style="left:134px;width:67px;border-left:1px solid #ebe8d6;"><div class="lab">Predicted End</div><div class="val">Apr 28, 2015</div></div>
</div></div>
<div class="plus" style="left:1163.5px;top:-34.2px"></div>
<div class="plus" style="left:1163.5px;top:104.80000000000001px"></div>
<div class="plus" style="left:1161.5px;top:233.8px"></div>
<div class="plus" style="left:89.5px;top:81.5px"></div>
<div class="plus" style="left:381.5px;top:-14px"></div>
<div class="plus" style="left:670.5px;top:-13px"></div>
<div class="plus" style="left:382px;top:122.4px"></div>
<div class="plus" style="left:381.4px;top:273.4px"></div>
<div class="plus" style="left:655px;top:228px"></div>
<div class="plus" style="left:657.5px;top:365px"></div>
<div class="plus" style="left:897px;top:117.5px"></div>
<div class="plus" style="left:945px;top:427.4px"></div>
<div class="abs" style="left:1109px;top:319px;width:36px;height:70px;border:1px solid #d5dbe2;border-radius:3px;background:#eef3f8"><div class="abs" style="left:6.5px;top:12px;width:20px;height:6.5px;background:#d8dde3"></div><div class="abs" style="left:12px;top:7px;width:9px;height:19.5px;background:#d8dde3;border-radius:1px"></div><div class="abs" style="left:6.5px;top:47.5px;width:20px;height:7.5px;background:#d8dde3"></div></div>
<div class="abs" style="left:1030px;top:394px;width:74px;height:36px;border:1px solid #d5dbe2;border-radius:3px;background:#eef3f8"><svg class="abs" style="left:6px;top:6px" width="24" height="24" viewBox="0 0 24 24"><rect x="1.5" y="8.5" width="6.5" height="7" rx="1.5" fill="#d8dde3"/><rect x="15.5" y="2" width="7.5" height="7.5" rx="1.5" fill="#d8dde3"/><rect x="15.5" y="14.8" width="7.5" height="7.5" rx="1.5" fill="#d8dde3"/><path d="M7,12 L16.5,5.8 M7,12 L16.5,18.5" stroke="#d8dde3" stroke-width="1.5"/></svg><div class="abs" style="left:39px;top:5px;width:28px;height:24px;border:2.5px solid #d8dde3"><div class="abs" style="left:3px;top:2.5px;width:17px;height:14px;background:#d8dde3"></div></div></div>
<div class="abs" style="left:1109px;top:394px;width:36px;height:36px;border:1px solid #d5dbe2;border-radius:3px;background:#eef3f8"><svg class="abs" style="left:4px;top:4px" width="26" height="26" viewBox="0 0 26 26"><circle cx="13" cy="13" r="11" fill="none" stroke="#d8dde3" stroke-width="1.8"/><path d="M13,2 V10 M13,16 V24 M2,13 H10 M16,13 H24" stroke="#d8dde3" stroke-width="1.6"/><circle cx="13" cy="13" r="0.9" fill="#d8dde3"/></svg></div>
</div>
<div class="abs" style="left:275px;top:484px;width:1165px;height:293px;background:#f3f5f9;border-top:1px solid #c9c9c9;overflow:hidden">
<div class="abs" style="left:0;top:0;width:1165px;height:30px;background:linear-gradient(#fbfcfd,#e9edf2);border-bottom:1px solid #c3c6cb">
<div class="th" style="left:0px;border-left:none;">Status<svg style="display:inline-block;vertical-align:-1px;margin-left:5px" width="8" height="10" viewBox="0 0 8 10"><path d="M1,4 L4,1 L7,4 M1,6 L4,9 L7,6" fill="none" stroke="#999" stroke-width="1.3"/></svg></div>
<div class="th" style="left:100px;">Task<svg style="display:inline-block;vertical-align:-1px;margin-left:5px" width="8" height="10" viewBox="0 0 8 10"><path d="M1,4 L4,1 L7,4 M1,6 L4,9 L7,6" fill="none" stroke="#999" stroke-width="1.3"/></svg></div>
<div class="th" style="left:374px;">Owner<svg style="display:inline-block;vertical-align:-1px;margin-left:5px" width="8" height="10" viewBox="0 0 8 10"><path d="M1,4 L4,1 L7,4 M1,6 L4,9 L7,6" fill="none" stroke="#999" stroke-width="1.3"/></svg></div>
<div class="th" style="left:566px;">Progress<svg style="display:inline-block;vertical-align:1px;margin-left:5px" width="8" height="5" viewBox="0 0 8 5"><path d="M0,5 L4,0.5 L8,5 Z" fill="#999"/></svg></div>
<div class="th" style="left:708px;">Estimate<svg style="display:inline-block;vertical-align:-1px;margin-left:5px" width="8" height="10" viewBox="0 0 8 10"><path d="M1,4 L4,1 L7,4 M1,6 L4,9 L7,6" fill="none" stroke="#999" stroke-width="1.3"/></svg></div>
<div class="th" style="left:847px;">Start Date<svg style="display:inline-block;vertical-align:-1px;margin-left:5px" width="8" height="10" viewBox="0 0 8 10"><path d="M1,4 L4,1 L7,4 M1,6 L4,9 L7,6" fill="none" stroke="#999" stroke-width="1.3"/></svg></div>
<div class="th" style="left:1006px;">End Date<svg style="display:inline-block;vertical-align:-1px;margin-left:5px" width="8" height="10" viewBox="0 0 8 10"><path d="M1,4 L4,1 L7,4 M1,6 L4,9 L7,6" fill="none" stroke="#999" stroke-width="1.3"/></svg></div>
</div>
<div class="row" style="top:31px;background:#f3f6fb">
<div class="sic" style="background:linear-gradient(#fde9e4,#f8cfc7);border-color:#dcc0bb"><svg class="abs" style="left:0;top:0" width="20" height="20" viewBox="0 0 20 20"><path d="M8.6,4.6 H11.4 L10.9,12.2 H9.1 Z" fill="#4a3431"/><rect x="8.8" y="13.5" width="2.4" height="2.4" fill="#4a3431"/></svg></div>
<div class="cell" style="left:32px">Late</div>
<div class="cell" style="left:105px">Product Code Complete</div>
<div class="cell" style="left:378px">Cosmo Kramer</div>
<div class="cell" style="left:566px;width:142px;top:0"><div class="pbar"><div class="f" style="width:113px"></div><div class="r" style="left:113px;right:0"></div><div class="t">108%</div></div></div>
<div class="cell" style="left:712px">4 days</div>
<div class="cell" style="left:852px;letter-spacing:0.7px">Apr 13, 2015</div>
<div class="cell" style="left:1011px;letter-spacing:0.7px">Apr 18, 2015</div>
</div>
<div class="row" style="top:69px;background:#f8f8f8">
<div class="sic" style="background:linear-gradient(#eaf0fc,#d3e3fb);border-color:#c3ccd8"><svg class="abs" style="left:0;top:0" width="20" height="20" viewBox="0 0 20 20"><path d="M5.5,8.3 H10 V5.2 L14.8,10 L10,14.8 V11.7 H5.5 Z" fill="#333a44"/></svg></div>
<div class="cell" style="left:32px">Started</div>
<div class="cell" style="left:105px">Determine Budget</div>
<div class="cell" style="left:378px">Elaine Benes</div>
<div class="cell" style="left:566px;width:142px;top:0"><div class="pbar"><div class="f" style="width:76px"></div><div class="t">62%</div></div></div>
<div class="cell" style="left:712px">1 week</div>
<div class="cell" style="left:852px;letter-spacing:0.7px">Apr 13, 2015</div>
<div class="cell" style="left:1011px;letter-spacing:0.7px">Apr 20, 2015</div>
</div>
<div class="row" style="top:107px;background:#f3f6fb">
<div class="sic" style="background:linear-gradient(#e3f7e3,#bfecbf);border-color:#bcd3bc"><svg class="abs" style="left:0;top:0" width="20" height="20" viewBox="0 0 20 20"><path d="M5.6,10.2 L8.6,13.3 L14.6,6.6" fill="none" stroke="#2c3d2c" stroke-width="2.6"/></svg></div>
<div class="cell" style="left:32px">Completed</div>
<div class="cell" style="left:105px">Engage Digital Agencies</div>
<div class="cell" style="left:378px">Jerry Seinfeld</div>
<div class="cell" style="left:566px;width:142px;top:0"><div class="pbar"><div class="f" style="width:76px"></div><div class="t">62%</div></div></div>
<div class="cell" style="left:712px">1 week</div>
<div class="cell" style="left:852px;letter-spacing:0.7px">Apr 13, 2015</div>
<div class="cell" style="left:1011px;letter-spacing:0.7px">Apr 18, 2015</div>
</div>
<div class="row" style="top:145px;background:#f8f8f8">
<div class="sic" style="background:linear-gradient(#e3f7e3,#bfecbf);border-color:#bcd3bc"><svg class="abs" style="left:0;top:0" width="20" height="20" viewBox="0 0 20 20"><path d="M5.6,10.2 L8.6,13.3 L14.6,6.6" fill="none" stroke="#2c3d2c" stroke-width="2.6"/></svg></div>
<div class="cell" style="left:32px">Completed</div>
<div class="cell" style="left:105px">Branding guidelines</div>
<div class="cell" style="left:378px">Newman Twinkie</div>
<div class="cell" style="left:566px;width:142px;top:0"><div class="pbar"><div class="f" style="width:56px"></div><div class="r" style="left:56px;right:0"></div><div class="t">217%</div></div></div>
<div class="cell" style="left:712px">2 days</div>
<div class="cell" style="left:852px;letter-spacing:0.7px">Apr 13, 2015</div>
<div class="cell" style="left:1011px;letter-spacing:0.7px">Apr 18, 2015</div>
</div>
<div class="row" style="top:183px;background:#f3f6fb">
<div class="sic" style="background:linear-gradient(#fefadf,#fbf0bd);border-color:#d9d4bd"><svg class="abs" style="left:0;top:0" width="20" height="20" viewBox="0 0 20 20"><path d="M6.8,4.9 H13.2 V6.2 C13.2,8 11,9.2 10.6,9.9 C11,10.6 13.2,12 13.2,13.8 V14.9 H6.8 V13.8 C6.8,12 9,10.6 9.4,9.9 C9,9.2 6.8,8 6.8,6.2 Z" fill="#4a4535"/></svg></div>
<div class="cell" style="left:32px">Waiting</div>
<div class="cell" style="left:105px">QA/UAT/Performance</div>
<div class="cell" style="left:378px">Cosmo Kramer</div>
<div class="cell" style="left:566px;width:142px;top:0"><div class="pbar"><div class="f" style="width:0px"></div><div class="t">0%</div></div></div>
<div class="cell" style="left:712px">1 week</div>
<div class="cell" style="left:852px;letter-spacing:0.7px">Apr 18, 2015</div>
<div class="cell" style="left:1011px;letter-spacing:0.7px">Apr 27, 2015</div>
</div>
<div class="row" style="top:221px;background:#f8f8f8">
<div class="sic" style="background:linear-gradient(#fefadf,#fbf0bd);border-color:#d9d4bd"><svg class="abs" style="left:0;top:0" width="20" height="20" viewBox="0 0 20 20"><path d="M6.8,4.9 H13.2 V6.2 C13.2,8 11,9.2 10.6,9.9 C11,10.6 13.2,12 13.2,13.8 V14.9 H6.8 V13.8 C6.8,12 9,10.6 9.4,9.9 C9,9.2 6.8,8 6.8,6.2 Z" fill="#4a4535"/></svg></div>
<div class="cell" style="left:32px">Waiting</div>
<div class="cell" style="left:105px">Security Audit</div>
<div class="cell" style="left:378px">Cosmo Kramer</div>
<div class="cell" style="left:566px;width:142px;top:0"><div class="pbar"><div class="f" style="width:0px"></div><div class="t">0%</div></div></div>
<div class="cell" style="left:712px">3 days</div>
<div class="cell" style="left:852px;letter-spacing:0.7px">Apr 18, 2015</div>
<div class="cell" style="left:1011px;letter-spacing:0.7px">Apr 22, 2015</div>
</div>
<div class="row" style="top:259px;background:#f3f6fb">
<div class="sic" style="background:linear-gradient(#fefadf,#fbf0bd);border-color:#d9d4bd"><svg class="abs" style="left:0;top:0" width="20" height="20" viewBox="0 0 20 20"><path d="M6.8,4.9 H13.2 V6.2 C13.2,8 11,9.2 10.6,9.9 C11,10.6 13.2,12 13.2,13.8 V14.9 H6.8 V13.8 C6.8,12 9,10.6 9.4,9.9 C9,9.2 6.8,8 6.8,6.2 Z" fill="#4a4535"/></svg></div>
<div class="cell" style="left:32px">Waiting</div>
<div class="cell" style="left:105px">Take Screenshots</div>
<div class="cell" style="left:378px">Jerry Seinfeld</div>
<div class="cell" style="left:566px;width:142px;top:0"><div class="pbar"><div class="f" style="width:0px"></div><div class="t">0%</div></div></div>
<div class="cell" style="left:712px">1 hour</div>
<div class="cell" style="left:852px;letter-spacing:0.7px">Apr 18, 2015</div>
<div class="cell" style="left:1011px;letter-spacing:0.7px">Apr 20, 2015</div>
</div>
</div>
<div class="abs" style="left:275px;top:776px;width:1165px;height:29px;background:linear-gradient(#fbfbfc,#e6e9ee);border-top:1px solid #c9c9c9">
<div class="abs" style="left:128px;top:0;width:1px;height:29px;background:#d0d0d0"></div>
<div class="abs" style="left:263px;top:0;width:1px;height:29px;background:#d0d0d0"></div>
<div class="abs" style="left:38px;top:0;line-height:28px;font-size:11.5px;letter-spacing:0.05px;color:#555">Export Schedule</div>
<div class="abs" style="left:167px;top:0;line-height:28px;font-size:11.5px;letter-spacing:-0.05px;color:#555">Save as Template</div>
<svg class="abs" style="left:7px;top:5px" width="25" height="20" viewBox="0 0 25 20"><path d="M9.5,1.3 H19.5 L23.9,5.7 V19.9 H9.5 Z" fill="#a0a0a0" rx="1"/><path d="M18.2,2.8 V7.2 H22.5" fill="none" stroke="#fff" stroke-width="1.6"/><path d="M1,9.6 H6 V6.8 L12,12.7 L6,18.6 V15.8 H1 Z" fill="#fff" stroke="#666" stroke-width="1"/></svg>
<svg class="abs" style="left:137px;top:5px" width="24" height="21" viewBox="0 0 24 21"><rect x="0.3" y="0.9" width="22.9" height="19.9" rx="2" fill="#9b9b9b"/><rect x="3.2" y="2.9" width="6.7" height="6" fill="#fff"/><path d="M13.1,8.9 L16.9,2.7 L20.8,8.9 Z" fill="#fff"/><path d="M6.5,11.4 L10,13.9 L8.7,18.8 H4.3 L3,13.9 Z" fill="#fff"/><circle cx="17.6" cy="15" r="3.5" fill="#fff"/></svg>
<div class="abs" style="left:1012px;top:4.5px;width:143px;height:21px;border:1px solid #c4c4c4;border-radius:10.5px;background:#fff;font-size:12px;line-height:18px;padding-left:8px;color:#bbb">Search</div>
</div>
</body></html>
